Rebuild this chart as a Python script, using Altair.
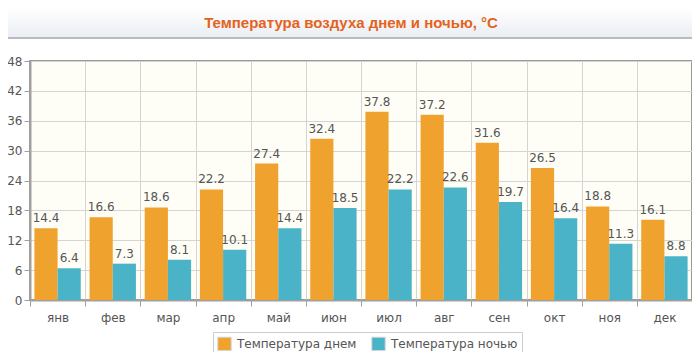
import altair as alt
import pandas as pd

months = ["янв", "фев", "мар", "апр", "май", "июн", "июл", "авг", "сен", "окт", "ноя", "дек"]
day = [14.4, 16.6, 18.6, 22.2, 27.4, 32.4, 37.8, 37.2, 31.6, 26.5, 18.8, 16.1]
night = [6.4, 7.3, 8.1, 10.1, 14.4, 18.5, 22.2, 22.6, 19.7, 16.4, 11.3, 8.8]
series = ["Температура днем", "Температура ночью"]
colors = ["#F0A22E", "#4BB3C7"]
y_ticks = [0, 6, 12, 18, 24, 30, 36, 42, 48]
title_text = "Температура воздуха днем и ночью, °С"

rows = []
for m, d, n in zip(months, day, night):
    rows.append({"month": m, "series": series[0], "value": d, "label": f"{d:.1f}"})
    rows.append({"month": m, "series": series[1], "value": n, "label": f"{n:.1f}"})
df = pd.DataFrame(rows)

W, H = 662, 239
PL, PT = 22, 53

x_enc = alt.X("month:N", sort=months, title=None,
              scale=alt.Scale(paddingInner=0, paddingOuter=0),
              axis=alt.Axis(labelAngle=0, tickBand="extent", grid=True,
                            gridColor="#d4d4d4", domainColor="#a0a0a0", domainWidth=2,
                            tickColor="#a0a0a0", tickSize=6, labelPadding=6,
                            labelColor="#555555", labelFontSize=12, labelFont="DejaVu Sans"))
xo_enc = alt.XOffset("series:N", sort=series,
                     scale=alt.Scale(paddingInner=0, paddingOuter=0.19))
y_enc = alt.Y("value:Q", title=None,
              scale=alt.Scale(domain=[0, 48], nice=False),
              axis=alt.Axis(values=y_ticks, labelOverlap=False, grid=True, gridColor="#d4d4d4",
                            domainColor="#a0a0a0", domainWidth=2, tickColor="#a0a0a0",
                            tickSize=6, labelPadding=2, labelColor="#555555",
                            labelFontSize=12, labelFont="DejaVu Sans"))

bars = alt.Chart(df).mark_bar().encode(
    x=x_enc, xOffset=xo_enc, y=y_enc,
    color=alt.Color("series:N", sort=series,
                    scale=alt.Scale(domain=series, range=colors),
                    legend=alt.Legend(title=None, orient="none", direction="horizontal",
                                      legendX=183, legendY=271, symbolType="square",
                                      symbolSize=180, symbolStrokeColor="#d8d8d8",
                                      symbolStrokeWidth=1, labelFontSize=12,
                                      labelFont="DejaVu Sans", labelColor="#555555",
                                      columnPadding=12, padding=4, strokeColor="#cccccc",
                                      fillColor="#ffffff", labelOffset=5)),
)

labels = alt.Chart(df).mark_text(baseline="bottom", dy=-3, fontSize=12,
                                 font="DejaVu Sans", color="#555555").encode(
    x=x_enc, xOffset=xo_enc, y=y_enc, text="label:N",
)

deco = pd.DataFrame({"t": [title_text]})
band = alt.Chart(deco).mark_rect(
    fill=alt.Gradient(gradient="linear", x1=0, x2=0, y1=0, y2=1,
                      stops=[alt.GradientStop(color="#ffffff", offset=0),
                             alt.GradientStop(color="#e9edf2", offset=1)])
).encode(x=alt.value(-PL), x2=alt.value(W), y=alt.value(-PT), y2=alt.value(-PT + 30))
band_bottom = alt.Chart(deco).mark_rule(color="#b8bcc2", strokeWidth=2).encode(
    x=alt.value(-PL), x2=alt.value(W), y=alt.value(-PT + 30))
title = alt.Chart(deco).mark_text(font="Liberation Sans", fontSize=15, fontWeight="bold",
                                  color="#E5621C", baseline="middle", align="center").encode(
    x=alt.value(321), y=alt.value(-PT + 15), text="t:N")

chart = alt.layer(band, band_bottom, title, bars, labels).properties(
    width=W, height=H,
    autosize=alt.AutoSizeParams(type="none"),
    padding={"left": PL, "top": PT, "right": 0, "bottom": 344 - PT - H},
).configure_view(fill="#fffef6", stroke="#999999", strokeWidth=2)

chart.save("out.html", embed_options={"renderer": "svg", "actions": False})
